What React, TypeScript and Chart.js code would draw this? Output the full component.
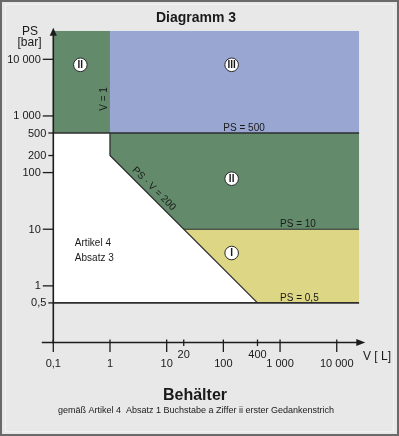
import React, { useEffect, useRef } from 'react';
import { Chart, registerables } from 'chart.js';

Chart.register(...registerables);

// ---- axis ranges (V in litres, PS in bar) ----
const V_MIN = 0.1;
const V_MAX = 25000;
const PS_MIN = 0.1;
const PS_MAX = 32000;

// ---- tick values & labels ----
const xTickValues = [0.1, 1, 10, 20, 100, 400, 1000, 10000];
const xTickLabels = ['0,1', '1', '10', '20', '100', '400', '1 000', '10 000'];
const xTickMinor = [false, false, false, true, false, true, false, false];
const yTickValues = [0.5, 1, 10, 100, 200, 500, 1000, 10000];
const yTickLabels = ['0,5', '1', '10', '100', '200', '500', '1 000', '10 000'];
const yTickMinor = [true, false, false, false, true, true, false, false];

// ---- region boundaries (V, PS) ----
const greenTopRegion = [{ x: 0.1, y: PS_MAX }, { x: 1, y: PS_MAX }]; // filled down to PS = 500
const blueRegion = [{ x: 1, y: PS_MAX }, { x: V_MAX, y: PS_MAX }]; // filled down to PS = 500
const greenMidRegion = [{ x: 1, y: 200 }, { x: 20, y: 10 }, { x: V_MAX, y: 10 }]; // filled up to PS = 500
const yellowRegion = [{ x: 20, y: 10 }, { x: 400, y: 0.5 }, { x: V_MAX, y: 0.5 }]; // filled up to PS = 10
const whiteRegion = [{ x: 0.1, y: 500 }, { x: 1, y: 500 }, { x: 1, y: 200 }, { x: 400, y: 0.5 }]; // filled down to 0.5

// ---- boundary lines ----
const line500 = [{ x: 0.1, y: 500 }, { x: V_MAX, y: 500 }];
const lineLimit = [{ x: 1, y: 500 }, { x: 1, y: 200 }, { x: 400, y: 0.5 }];
const line10 = [{ x: 20, y: 10 }, { x: V_MAX, y: 10 }];
const line05 = [{ x: 0.1, y: 0.5 }, { x: V_MAX, y: 0.5 }];

// ---- category markers ----
const categoryLabels = ['II', 'III', 'II', 'I'];
const categoryV = [0.3, 140, 140, 140];
const categoryPS = [8000, 8000, 78, 3.8];

const BG = '#e8e8e8';
const GREEN = '#638b6b';
const BLUE = '#98a6d1';
const YELLOW = '#ddd685';
const LINE = '#2e2e2e';
const TEXT = '#1a1a1a';
const FONT = '"Liberation Sans", Arial, Helvetica, sans-serif';

const region = (data: any[], color: string, fillTo: number) => ({
  data,
  showLine: true,
  fill: { value: fillTo },
  backgroundColor: color,
  borderColor: 'rgba(0,0,0,0)',
  borderWidth: 1,
  pointRadius: 0,
  tension: 0,
  order: 10,
});

const stroke = (data: any[], width: number) => ({
  data,
  showLine: true,
  fill: false,
  borderColor: LINE,
  borderWidth: width,
  pointRadius: 0,
  tension: 0,
  order: 1,
});

const decor = {
  id: 'decor',
  beforeDraw(chart: any) {
    const { ctx, width, height } = chart;
    ctx.save();
    ctx.fillStyle = BG;
    ctx.fillRect(0, 0, width, height);
    ctx.strokeStyle = 'rgba(255,255,255,0.45)';
    ctx.lineWidth = 1;
    ctx.strokeRect(5.5, 4.5, width - 11, height - 9);
    ctx.strokeStyle = '#6a6a6a';
    ctx.lineWidth = 2;
    ctx.strokeRect(1, 1, width - 2, height - 2);
    ctx.restore();
  },
  afterDraw(chart: any) {
    const { ctx, chartArea } = chart;
    const xs = chart.scales.x;
    const ys = chart.scales.y;
    const axisX = xs.getPixelForValue(V_MIN);
    const axisY = ys.getPixelForValue(PS_MIN);
    ctx.save();

    // axes
    ctx.strokeStyle = '#1c1c1c';
    ctx.fillStyle = '#1c1c1c';
    ctx.lineWidth = 1.6;
    ctx.beginPath();
    ctx.moveTo(axisX, axisY + 1);
    ctx.lineTo(axisX, chartArea.top + 2);
    ctx.moveTo(axisX - 11.5, axisY);
    ctx.lineTo(chartArea.right + 2, axisY);
    ctx.stroke();
    // arrow heads
    ctx.beginPath();
    ctx.moveTo(axisX, chartArea.top - 3);
    ctx.lineTo(axisX - 3.6, chartArea.top + 5);
    ctx.lineTo(axisX + 3.6, chartArea.top + 5);
    ctx.closePath();
    ctx.fill();
    ctx.beginPath();
    ctx.moveTo(chartArea.right + 6, axisY);
    ctx.lineTo(chartArea.right - 3, axisY - 3.6);
    ctx.lineTo(chartArea.right - 3, axisY + 3.6);
    ctx.closePath();
    ctx.fill();

    // y ticks
    ctx.lineWidth = 1.3;
    ctx.font = `11px ${FONT}`;
    ctx.textAlign = 'right';
    ctx.textBaseline = 'middle';
    yTickValues.forEach((v, i) => {
      const py = ys.getPixelForValue(v);
      const len = yTickMinor[i] ? 5 : 10.5;
      ctx.beginPath();
      ctx.moveTo(axisX - len, py);
      ctx.lineTo(axisX, py);
      ctx.stroke();
      ctx.fillStyle = TEXT;
      ctx.fillText(yTickLabels[i], axisX - len - 2, py + 0.5);
    });

    // x ticks
    ctx.textAlign = 'center';
    xTickValues.forEach((v, i) => {
      const px = xs.getPixelForValue(v);
      const minor = xTickMinor[i];
      ctx.beginPath();
      ctx.moveTo(px, axisY - 3);
      ctx.lineTo(px, axisY + (minor ? 3.5 : 9.5));
      ctx.stroke();
      ctx.fillStyle = TEXT;
      ctx.fillText(xTickLabels[i], px, axisY + (minor ? 12.5 : 21.5));
    });

    // axis titles
    ctx.fillStyle = TEXT;
    ctx.font = `12px ${FONT}`;
    ctx.textAlign = 'center';
    ctx.textBaseline = 'alphabetic';
    ctx.fillText('PS', 30, 34.5);
    ctx.fillText('[bar]', 29.5, 45.5);
    ctx.textBaseline = 'middle';
    ctx.fillText('V [ L]', 377, 356.5);

    // title & captions
    ctx.textBaseline = 'alphabetic';
    ctx.font = `bold 14px ${FONT}`;
    ctx.fillText('Diagramm 3', 196, 22);
    ctx.font = `bold 16px ${FONT}`;
    ctx.fillText('Behälter', 195, 400);
    ctx.font = `9px ${FONT}`;
    ctx.fillText('gemäß Artikel 4  Absatz 1 Buchstabe a Ziffer ii erster Gedankenstrich', 196, 413);

    // in-plot labels
    ctx.font = `10px ${FONT}`;
    ctx.textAlign = 'left';
    ctx.textBaseline = 'alphabetic';
    ctx.fillText('PS = 500', xs.getPixelForValue(100), ys.getPixelForValue(500) - 1.5);
    ctx.fillText('PS = 10', xs.getPixelForValue(1000), ys.getPixelForValue(10) - 2.5);
    ctx.fillText('PS = 0,5', xs.getPixelForValue(1000), ys.getPixelForValue(0.5) - 2);
    ctx.fillText('Artikel 4', xs.getPixelForValue(0.24), ys.getPixelForValue(6) + 4);
    ctx.fillText('Absatz 3', xs.getPixelForValue(0.24), ys.getPixelForValue(6) + 19);

    // V = 1 (vertical)
    ctx.save();
    ctx.translate(xs.getPixelForValue(1) - 6, ys.getPixelForValue(2000));
    ctx.rotate(-Math.PI / 2);
    ctx.textAlign = 'center';
    ctx.textBaseline = 'middle';
    ctx.fillText('V = 1', 0, 0);
    ctx.restore();

    // PS · V = 200 (along diagonal)
    const p1x = xs.getPixelForValue(1), p1y = ys.getPixelForValue(200);
    const p2x = xs.getPixelForValue(400), p2y = ys.getPixelForValue(0.5);
    const ang = Math.atan2(p2y - p1y, p2x - p1x);
    const ax = xs.getPixelForValue(4.8), ay = ys.getPixelForValue(200 / 4.8);
    const off = 7.5;
    ctx.save();
    ctx.translate(ax + off * Math.sin(ang), ay - off * Math.cos(ang));
    ctx.rotate(ang);
    ctx.textAlign = 'center';
    ctx.textBaseline = 'middle';
    ctx.fillText('PS · V = 200', 0, 0);
    ctx.restore();

    // category numerals
    const meta = chart.getDatasetMeta(chart.data.datasets.length - 1);
    ctx.font = `bold 10px ${FONT}`;
    ctx.textAlign = 'center';
    ctx.textBaseline = 'middle';
    meta.data.forEach((el: any, i: number) => {
      ctx.fillText(categoryLabels[i], el.x, el.y + 0.5);
    });

    ctx.restore();
  },
};

export default function App() {
  const ref = useRef<HTMLCanvasElement>(null);
  useEffect(() => {
    document.body.style.margin = '0';
    const canvas = ref.current;
    if (!canvas) return;
    const markers = categoryV.map((v, i) => ({ x: v, y: categoryPS[i] }));
    const chart = new Chart(canvas, {
      type: 'scatter',
      data: {
        datasets: [
          region(greenTopRegion, GREEN, 500),
          region(blueRegion, BLUE, 500),
          region(greenMidRegion, GREEN, 500),
          region(yellowRegion, YELLOW, 10),
          region(whiteRegion, '#ffffff', 0.5),
          stroke(line500, 1.6),
          stroke(lineLimit, 1.3),
          stroke(line10, 1.1),
          stroke(line05, 1.6),
          {
            data: markers,
            showLine: false,
            pointRadius: 6.8,
            pointBackgroundColor: '#ffffff',
            pointBorderColor: '#2a2a2a',
            pointBorderWidth: 1,
            order: 0,
          },
        ] as any,
      },
      options: {
        responsive: false,
        animation: false,
        devicePixelRatio: 1,
        events: [],
        layout: { padding: { left: 53.3, right: 39.7, top: 30.7, bottom: 93.5 } },
        plugins: {
          legend: { display: false },
          tooltip: { enabled: false },
          title: { display: false },
        },
        scales: {
          x: { type: 'logarithmic', min: V_MIN, max: V_MAX, display: false, bounds: 'data' },
          y: { type: 'logarithmic', min: PS_MIN, max: PS_MAX, display: false, bounds: 'data' },
        },
      } as any,
      plugins: [decor],
    });
    return () => chart.destroy();
  }, []);
  return (
    <canvas
      ref={ref}
      width={399}
      height={436}
      style={{ display: 'block', width: '399px', height: '436px' }}
    />
  );
}
